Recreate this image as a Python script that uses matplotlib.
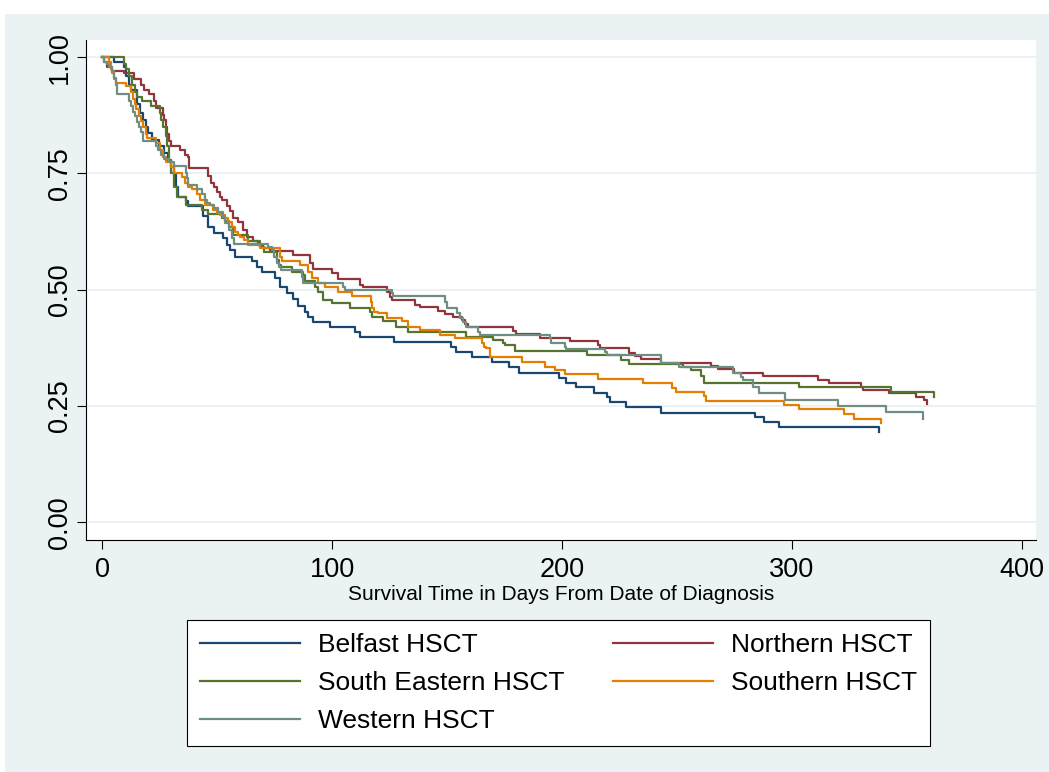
import matplotlib
matplotlib.use("Agg")
import matplotlib.pyplot as plt
from matplotlib.patches import Rectangle

plt.rcParams['font.family'] = ['Liberation Sans', 'DejaVu Sans']

# ---------------- data (Kaplan-Meier step points: time in days, survival) -------------
belfast_t = [0, 5, 9.6, 10.5, 11.5, 12.5, 15, 16.5, 17.5, 19,
             20, 21.5, 24.5, 27, 28.5, 30, 31, 32, 33, 36.5,
             37.5, 43.6, 45.8, 48.8, 52.3, 54.1, 55.4, 57.6, 65.0, 67.2,
             69.3, 75.0, 77.2, 80.2, 82.9, 85.0, 88.1, 89.4, 91.6, 99.0,
             109.9, 112.1, 126.9, 151.8, 154.0, 161.0, 169.6, 177.0, 181.4, 198.9,
             201.9, 206.3, 214.1, 219.4, 221.1, 228.1, 242.9, 283.9, 287.8, 294.4,
             338.0]
belfast_s = [1.0, 0.99, 0.98, 0.96, 0.94, 0.93, 0.90, 0.88, 0.866, 0.85,
             0.838, 0.823, 0.81, 0.795, 0.78, 0.765, 0.75, 0.72, 0.70, 0.69,
             0.68, 0.658, 0.636, 0.623, 0.611, 0.597, 0.585, 0.570, 0.561, 0.549,
             0.539, 0.525, 0.507, 0.493, 0.480, 0.466, 0.453, 0.442, 0.431, 0.420,
             0.409, 0.398, 0.387, 0.376, 0.366, 0.355, 0.344, 0.333, 0.322, 0.311,
             0.300, 0.290, 0.279, 0.269, 0.258, 0.247, 0.236, 0.226, 0.216, 0.204,
             0.194]

northern_t = [0, 0.9, 2.2, 4.4, 9.6, 14.0, 17.0, 18.3, 20.5, 22.7,
              23.5, 26.2, 27.0, 27.9, 28.3, 29.2, 30.1, 33.6, 35.8, 37.1,
              37.9, 45.8, 47.5, 48.8, 49.7, 51.0, 51.9, 54.1, 55.4, 56.7,
              58.9, 61.1, 62.8, 65.4, 67.6, 69.8, 72.8, 82.9, 90.3, 91.6,
              99.9, 102.5, 112.1, 113.4, 123.9, 125.2, 126.0, 136.1, 138.2, 146.1,
              149.2, 152.6, 156.6, 157.9, 159.2, 178.8, 180.1, 190.6, 203.7, 215.9,
              216.7, 229.0, 232.0, 234.2, 242.9, 264.7, 267.8, 274.7, 287.4, 311.4,
              316.2, 330.1, 331.0, 342.3, 354.1, 357.6, 358.9]
northern_s = [1.0, 0.99, 0.98, 0.97, 0.965, 0.953, 0.94, 0.93, 0.92, 0.905,
              0.89, 0.875, 0.866, 0.85, 0.835, 0.82, 0.809, 0.80, 0.79, 0.785,
              0.762, 0.744, 0.730, 0.72, 0.71, 0.70, 0.694, 0.68, 0.67, 0.655,
              0.645, 0.629, 0.614, 0.604, 0.597, 0.59, 0.583, 0.575, 0.557, 0.545,
              0.537, 0.523, 0.511, 0.507, 0.496, 0.484, 0.478, 0.468, 0.462, 0.455,
              0.448, 0.442, 0.435, 0.427, 0.420, 0.412, 0.405, 0.396, 0.389, 0.381,
              0.374, 0.365, 0.358, 0.351, 0.343, 0.336, 0.329, 0.320, 0.315, 0.306,
              0.299, 0.290, 0.284, 0.277, 0.269, 0.263, 0.254]

southeastern_t = [0, 9.6, 10.5, 11.8, 13.1, 14.4, 15.0, 17.4, 21.4, 24.9,
                  25.7, 26.6, 27.5, 28.3, 29.2, 30.1, 31.4, 32.3, 36.6, 43.2,
                  45.8, 51.9, 53.2, 55.0, 56.7, 63.2, 68.5, 70.2, 75.9, 76.8,
                  77.6, 82.4, 87.2, 88.1, 92.5, 93.8, 95.9, 99.9, 107.7, 116.4,
                  117.3, 122.1, 127.8, 133.0, 158.3, 170.1, 174.4, 175.3, 179.7, 211.1,
                  225.5, 229.0, 252.5, 256.0, 260.4, 261.7, 303.1, 343.2, 362.0]
southeastern_s = [1.0, 0.985, 0.975, 0.96, 0.94, 0.925, 0.914, 0.905, 0.895, 0.88,
                  0.866, 0.85, 0.83, 0.81, 0.78, 0.75, 0.72, 0.70, 0.683, 0.672,
                  0.662, 0.655, 0.647, 0.636, 0.618, 0.604, 0.593, 0.582, 0.565, 0.554,
                  0.550, 0.539, 0.532, 0.518, 0.506, 0.496, 0.478, 0.471, 0.461, 0.452,
                  0.441, 0.432, 0.420, 0.410, 0.399, 0.392, 0.385, 0.381, 0.369, 0.360,
                  0.349, 0.341, 0.334, 0.328, 0.315, 0.300, 0.290, 0.281, 0.270]

southern_t = [0, 3.1, 3.9, 4.4, 5.2, 6.1, 10.5, 12.6, 13.5, 14.2,
              14.8, 16.1, 17.0, 17.9, 18.8, 19.6, 23.5, 24.9, 26.2, 27.9,
              30.1, 31.4, 34.5, 35.8, 37.1, 39.2, 41.4, 42.7, 44.5, 48.0,
              49.7, 51.0, 53.6, 54.5, 56.3, 57.6, 58.9, 59.7, 61.5, 63.2,
              68.5, 77.2, 78.1, 85.9, 89.4, 91.1, 93.8, 96.8, 102.5, 108.6,
              116.9, 117.5, 118.2, 119.9, 123.9, 130.4, 133.0, 138.2, 147.0, 153.5,
              165.3, 166.2, 167.0, 168.8, 182.7, 192.8, 197.1, 201.5, 215.9, 235.1,
              248.1, 249.5, 261.7, 262.5, 296.6, 303.1, 322.7, 327.1, 338.9]
southern_s = [1.0, 0.99, 0.975, 0.967, 0.953, 0.945, 0.938, 0.925, 0.91, 0.90,
              0.888, 0.873, 0.862, 0.85, 0.835, 0.826, 0.815, 0.80, 0.786, 0.774,
              0.765, 0.752, 0.743, 0.73, 0.722, 0.716, 0.705, 0.694, 0.683, 0.672,
              0.666, 0.660, 0.655, 0.645, 0.636, 0.625, 0.618, 0.614, 0.607, 0.597,
              0.590, 0.571, 0.561, 0.554, 0.539, 0.525, 0.514, 0.505, 0.496, 0.487,
              0.474, 0.461, 0.453, 0.450, 0.440, 0.432, 0.421, 0.414, 0.403, 0.396,
              0.386, 0.377, 0.374, 0.356, 0.345, 0.335, 0.328, 0.319, 0.308, 0.299,
              0.289, 0.281, 0.272, 0.261, 0.252, 0.243, 0.233, 0.223, 0.214]

western_t = [0, 0.9, 2.2, 3.1, 4.4, 5.2, 5.9, 6.5, 11.8, 12.6,
             13.5, 14.4, 15.3, 16.1, 17.0, 17.7, 23.5, 24.4, 25.7, 27.0,
             29.2, 31.4, 36.6, 36.9, 37.2, 41.4, 43.2, 44.5, 45.4, 46.7,
             48.8, 50.2, 52.3, 53.6, 55.0, 56.3, 57.1, 72.0, 73.7, 74.6,
             75.9, 76.8, 77.6, 86.8, 87.2, 104.7, 105.5, 126.0, 126.5, 149.2,
             150.0, 154.4, 155.7, 157.0, 158.3, 163.5, 164.4, 194.9, 195.4, 201.5,
             201.9, 218.9, 219.4, 242.9, 243.3, 250.8, 274.3, 274.7, 277.8, 278.7,
             283.0, 285.7, 297.0, 320.1, 341.0, 357.2]
western_s = [1.0, 0.99, 0.985, 0.978, 0.97, 0.955, 0.94, 0.92, 0.905, 0.895,
             0.882, 0.873, 0.86, 0.85, 0.84, 0.82, 0.81, 0.80, 0.79, 0.782,
             0.774, 0.766, 0.75, 0.74, 0.726, 0.716, 0.705, 0.694, 0.687, 0.683,
             0.676, 0.668, 0.657, 0.644, 0.629, 0.612, 0.599, 0.593, 0.586, 0.571,
             0.558, 0.550, 0.543, 0.528, 0.514, 0.506, 0.500, 0.493, 0.486, 0.474,
             0.461, 0.450, 0.440, 0.431, 0.421, 0.410, 0.403, 0.396, 0.385, 0.377,
             0.372, 0.366, 0.360, 0.351, 0.342, 0.333, 0.322, 0.320, 0.312, 0.305,
             0.292, 0.278, 0.264, 0.251, 0.238, 0.223]

series_names = ["Belfast HSCT", "Northern HSCT", "South Eastern HSCT",
                "Southern HSCT", "Western HSCT"]
series_colors = ["#1a476f", "#90353b", "#55752f", "#e37e00", "#6e8e84"]

x_ticks = [0, 100, 200, 300, 400]
y_ticks = [0.0, 0.25, 0.50, 0.75, 1.0]
y_tick_labels = ["0.00", "0.25", "0.50", "0.75", "1.00"]
x_title = "Survival Time in Days From Date of Diagnosis"

# ---------------- figure ----------------
W, H = 1049, 772
BG = "#EAF2F3"
fig = plt.figure(figsize=(W / 100, H / 100), dpi=100)
fig.patch.set_facecolor("white")
fig.patches.append(Rectangle((5 / W, 0), 1 - 5 / W, (H - 14) / H,
                             transform=fig.transFigure, facecolor=BG,
                             edgecolor="none", zorder=-5))

ax = fig.add_axes([86 / W, (H - 540) / H, (1036 - 86) / W, (540 - 40) / H])
ax.set_facecolor("white")

all_t = [belfast_t, northern_t, southeastern_t, southern_t, western_t]
all_s = [belfast_s, northern_s, southeastern_s, southern_s, western_s]
handles = []
for name, t, s, c in zip(series_names, all_t, all_s, series_colors):
    h, = ax.step(t, s, where="post", color=c, lw=1.6, label=name, zorder=3)
    handles.append(h)

ax.set_xlim(-7.1, 406.3)
ax.set_ylim(-0.038, 1.037)
ax.set_xticks(x_ticks)
ax.set_xticklabels([str(v) for v in x_ticks])
ax.set_yticks(y_ticks)
ax.set_yticklabels(y_tick_labels, rotation=90, va="center")
ax.grid(axis="y", color=BG, lw=1.4)
ax.grid(axis="x", visible=False)
ax.set_axisbelow(True)
for side in ["top", "right"]:
    ax.spines[side].set_visible(False)
for side in ["left", "bottom"]:
    ax.spines[side].set_color("black")
    ax.spines[side].set_linewidth(0.8)
ax.tick_params(axis="both", direction="out", length=6.5, width=0.8,
               color="black", labelsize=19.5)
ax.tick_params(axis="y", pad=3)
ax.tick_params(axis="x", pad=6)
ax.set_xlabel(x_title, fontsize=15, labelpad=1)

order = [0, 2, 4, 1, 3]
leg = fig.legend([handles[i] for i in order], [series_names[i] for i in order],
                 loc="upper left", bbox_to_anchor=(187 / W, (H - 620) / H),
                 ncol=2, fontsize=19, handlelength=3.79, handletextpad=0.68,
                 columnspacing=1.82, borderpad=0.5, labelspacing=0.53,
                 frameon=True, fancybox=False, framealpha=1, borderaxespad=0)
leg.get_frame().set_edgecolor("black")
leg.get_frame().set_linewidth(0.8)
leg.get_frame().set_facecolor("white")

fig.savefig("out.png", dpi=100, facecolor=fig.get_facecolor())
